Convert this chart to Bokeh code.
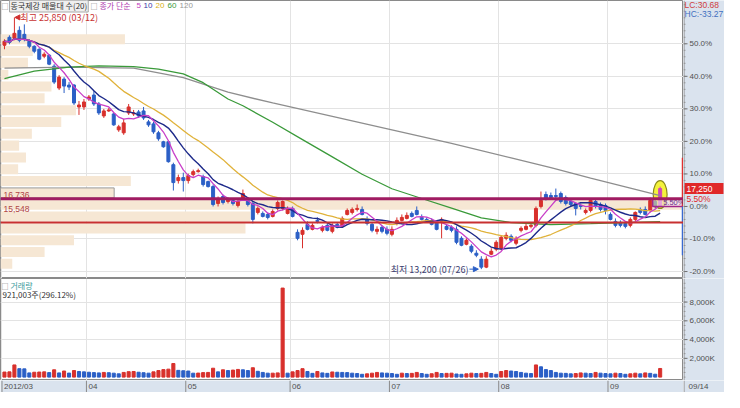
import numpy as np
import pandas as pd
from bokeh.plotting import figure
from bokeh.layouts import column, row
from bokeh.models import Range1d, FixedTicker, Span, Label, Grid, Arrow, NormalHead
from bokeh.embed import file_html
from bokeh.resources import INLINE
from bokeh.core.properties import value

# ---------------- data ----------------
opens = [24450, 24850, 24800, 25200, 25000, 24650, 24400, 24250, 23900, 23950,
         23400, 22300, 22750, 22450, 22450, 21350, 21350, 21750, 21950, 21500,
         20900, 21150, 21000, 20200, 20050, 21050, 21000, 21100, 21150, 20600,
         20500, 20050, 19600, 19600, 18450, 17650, 17800, 17650, 17950, 18100,
         17850, 17600, 17350, 16500, 16850, 16600, 16650, 16400, 16750, 16650,
         16500, 16050, 16000, 15950, 15850, 16250, 16250, 16000, 16250, 15050,
         14950, 15450, 15200, 15650, 15150, 15400, 15100, 15450, 15350, 15950,
         16050, 16200, 16200, 15700, 15450, 15100, 15300, 15200, 14950, 15500,
         15650, 15750, 16000, 16150, 15800, 15700, 15600, 15550, 15600, 15350,
         15300, 15200, 14750, 14450, 14350, 14000, 13700, 13300, 13950, 14200,
         14250, 14750, 14850, 14500, 15150, 15200, 15350, 15400, 16350, 16950,
         16900, 16900, 17000, 16800, 16600, 16500, 16400, 16050, 16150, 16600,
         16450, 16400, 15950, 15600, 15550, 15500, 15400, 15700, 16200, 16200,
         16150, 16600, 16350]
highs = [24750, 24950, 25850, 25400, 25500, 24750, 24450, 24300, 24100, 24000,
         23500, 22950, 22850, 22600, 22500, 21650, 21750, 21950, 22150, 21600,
         21250, 21300, 21050, 20450, 20750, 21500, 21200, 21200, 21350, 20700,
         20600, 20150, 19650, 19650, 18550, 17950, 18050, 18000, 18200, 18250,
         17950, 17650, 17450, 16850, 16950, 16800, 16750, 16750, 17200, 16800,
         16600, 16350, 16100, 16050, 16200, 16650, 16650, 16350, 16350, 15200,
         15300, 15600, 15500, 15800, 15400, 15500, 15500, 15550, 15850, 16250,
         16300, 16450, 16350, 15850, 15550, 15350, 15400, 15350, 15350, 15800,
         15950, 16050, 16100, 16350, 15950, 15800, 15750, 15650, 15800, 15450,
         15400, 15350, 14850, 14750, 14450, 14150, 13850, 13850, 14250, 14650,
         14900, 15050, 14950, 14850, 15350, 15500, 15500, 16350, 17100, 17100,
         17050, 17250, 17100, 16900, 16700, 16550, 16500, 16250, 16750, 16700,
         16550, 16500, 16050, 15750, 15650, 15600, 15800, 16100, 16300, 16350,
         16800, 16750, 17350]
lows = [24250, 24500, 24700, 24600, 24650, 24300, 24050, 23700, 23800, 23450,
        22500, 22200, 22050, 22200, 21450, 20950, 21200, 21650, 21400, 20950,
        20800, 21100, 20400, 20100, 19950, 20950, 20900, 20800, 20700, 20350,
        20000, 19650, 19300, 18550, 17150, 17500, 17100, 17500, 17850, 18050,
        17350, 17300, 16350, 16350, 16450, 16500, 16400, 16300, 16650, 16350,
        15500, 15950, 15800, 15700, 15800, 16150, 16150, 15950, 15800, 14650,
        14250, 15150, 15150, 15500, 15050, 15100, 15000, 15250, 15300, 15900,
        15950, 16100, 15900, 15400, 15050, 14950, 15000, 14900, 14850, 15400,
        15600, 15700, 15800, 15900, 15650, 15600, 15400, 15150, 14750, 15150,
        15050, 14450, 14350, 14400, 14000, 13800, 13200, 13250, 13900, 14100,
        14150, 14650, 14550, 14400, 15050, 15150, 15250, 15300, 16250, 16650,
        16700, 16750, 16500, 16400, 16350, 15900, 16200, 15950, 16050, 16250,
        16100, 15950, 15650, 15300, 15300, 15250, 15300, 15600, 15950, 15900,
        16050, 16250, 16300]
closes = [24650, 24600, 25050, 24700, 24750, 24400, 24150, 23750, 24000, 23500,
          22600, 22850, 22400, 22350, 21550, 21450, 21600, 21850, 21500, 21050,
          21150, 21200, 20450, 20350, 20550, 21350, 21050, 20900, 20800, 20450,
          20100, 19750, 19350, 18600, 17550, 17800, 17650, 17900, 18100, 18150,
          17450, 17350, 16450, 16750, 16550, 16700, 16500, 16600, 17000, 16450,
          15700, 16250, 15850, 15800, 16100, 16550, 16600, 16250, 15850, 14750,
          15150, 15200, 15400, 15600, 15300, 15150, 15400, 15300, 15750, 16150,
          16200, 16250, 15950, 15500, 15150, 15200, 15100, 15000, 15200, 15650,
          15800, 15900, 15850, 15950, 15700, 15650, 15450, 15200, 15700, 15200,
          15150, 14550, 14400, 14650, 14100, 13900, 13300, 13700, 14100, 14550,
          14800, 14900, 14650, 14750, 15250, 15350, 15400, 16250, 16650, 16750,
          16800, 16850, 16600, 16500, 16450, 16250, 16350, 16150, 16650, 16350,
          16200, 16150, 15700, 15400, 15400, 15350, 15700, 16050, 16050, 15950,
          16650, 16350, 17250]
volumes_k = [540, 560, 1300, 900, 880, 450, 520, 540, 560, 480,
             780, 450, 650, 430, 700, 600, 560, 520, 480, 450,
             500, 470, 420, 350, 500, 580, 600, 520, 470, 420,
             560, 700, 800, 850, 1450, 720, 680, 650, 420, 430,
             480, 500, 950, 560, 780, 700, 750, 820, 780, 700,
             1000, 620, 500, 420, 420, 450, 9490, 420, 560, 700,
             900, 600, 400, 600, 450, 400, 550, 520, 500, 480,
             420, 380, 300, 350, 420, 500, 450, 420, 380, 300,
             420, 380, 400, 500, 380, 300, 360, 500, 380, 400,
             420, 330, 300, 350, 420, 380, 400, 500, 380, 300,
             600, 700, 650, 600, 500, 420, 380, 1300, 1100, 800,
             700, 500, 420, 400, 350, 380, 450, 420, 380, 500,
             420, 380, 350, 420, 380, 300, 350, 420, 350, 450,
             400, 311.02, 921.003]

month_start = [0, 17, 37, 58, 78, 100, 122]
month_labels = ["2012/03", "04", "05", "06", "07", "08", "09"]
last_date = "09/14"
high_date = "03/12"
low_date = "07/26"
stock_name = "동국제강"
ma_periods = [5, 10, 20, 60, 120]

ma60_idx = [0, 6, 13, 19, 26, 31, 36, 40, 45, 48, 54, 60, 66, 72, 78, 84, 90, 96, 102, 110, 118, 125, 132]
ma60_val = [22770, 23150, 23350, 23410, 23380, 23250, 23010, 22570, 21750, 21410, 20580, 19710,
            18840, 17970, 17240, 16750, 16270, 15780, 15540, 15440, 15490, 15540, 15590]
ma120_idx = [0, 13, 26, 36, 45, 54, 66, 78, 90, 102, 110, 118, 125, 132]
ma120_val = [23300, 23350, 23300, 22820, 22090, 21550, 20880, 20200, 19520, 18790, 18300, 17770, 17340, 16900]

profile_low = 13170
profile_high = 25050
# volume per price bin (thousand shares), bottom bin first
profile_vol_k = [300, 1125, 1875, 6250, 6375, 17425, 2900, 3325, 450, 650,
                 475, 800, 1550, 1925, 1125, 1300, 200, 700, 825, 3175]
level_values = [16736, 15548]

pct_ticks = [-20, -10, 0, 10, 20, 30, 40, 50]
vol_ticks_k = [2000, 4000, 6000, 8000]
price_limit_pct = 15

# ---------------- derived ----------------
n = len(closes)
xc = np.arange(n) + 0.5
base = closes[-2]
chg = (closes[-1] / base - 1) * 100
lc = (closes[-1] / min(lows) - 1) * 100
hc = (closes[-1] / max(highs) - 1) * 100
cs = pd.Series(closes, dtype=float)
ma_fast = {k: cs.rolling(k, min_periods=1).mean().values for k in (5, 10, 20)}

RED = "#d8302c"
BLUE = "#2b5fc6"
PANEL = "#dae3ee"
GRID = "#e3e3e3"
BEIGE = "#f6e7d4"
AXC = "#8a8a8a"
TXT = "#505050"
KFONT = "Noto Sans CJK KR"
NFONT = "Liberation Sans"

W, RIGHT = 724, 41
H1, H2, H3 = 278, 102, 12
FW = W - RIGHT

xr = Range1d(-0.3, 137.2)
y_lo, y_hi = 12730, 26700
yr_main = Range1d(y_lo, y_hi)
yr_vol = Range1d(-360, 10510)


def fig(w, h, xrange, yrange, bg="white", outline=AXC):
    f = figure(width=w, height=h, x_range=xrange, y_range=yrange,
               x_axis_location=None, y_axis_location=None,
               toolbar_location=None, output_backend="svg", min_border=0,
               border_fill_color=PANEL, background_fill_color=bg, outline_line_color=outline)
    f.xgrid.visible = False
    f.ygrid.visible = False
    return f


def lab(f, x, y, text, color, font=KFONT, size="8px", **kw):
    f.add_layout(Label(x=x, y=y, x_units="screen", y_units="screen", text=text,
                       text_font=font, text_font_size=size, text_color=color,
                       text_baseline="middle", **kw))


# ---------------- main price panel ----------------
p = fig(FW, H1, xr, yr_main)
p.add_layout(Grid(dimension=0, ticker=FixedTicker(ticks=month_start), grid_line_color=GRID))
p.add_layout(Grid(dimension=1, ticker=FixedTicker(ticks=[base * (1 + t / 100) for t in pct_ticks]),
                  grid_line_color=GRID))

# volume profile (매물대)
edges = np.linspace(profile_low, profile_high, len(profile_vol_k) + 1)
vmax = max(profile_vol_k)
span_x = xr.end - xr.start
rights = [xr.start + v / vmax * span_x for v in profile_vol_k]
gap = 45
p.quad(left=xr.start, right=rights, bottom=edges[:-1] + gap, top=edges[1:] - gap,
       fill_color=BEIGE, line_color=None)
cur_bin = int(np.searchsorted(edges, closes[-1]) - 1)
p.quad(left=xr.start, right=rights[cur_bin], bottom=edges[cur_bin] + gap, top=edges[cur_bin + 1] - gap,
       fill_color=None, line_color="#9a9a9a", line_width=1)

# highlight ellipse on last candle
p.ellipse(x=[xc[-1]], y=[(opens[-1] + closes[-1]) / 2 + 150], width=2.8, height=1400,
          fill_color="#f4f23c", line_color="#8c8a1c", line_width=1.2)

# candles
up = [c >= o for o, c in zip(opens, closes)]
ccol = [RED if u else BLUE for u in up]
ccol[-1] = "#d048b8"
ccol[-2] = "#2a5a3a"
p.segment(x0=xc, y0=lows, x1=xc, y1=highs, color=ccol, line_width=1)
p.vbar(x=xc, width=0.6, top=np.maximum(opens, closes), bottom=np.minimum(opens, closes),
       fill_color=ccol, line_color=ccol, line_width=1)

# moving averages
p.line(np.array(ma120_idx) + 0.5, ma120_val, line_color="#8e8e8e", line_width=1.3)
p.line(np.array(ma60_idx) + 0.5, ma60_val, line_color="#3a9a3a", line_width=1.3)
p.line(xc, ma_fast[20], line_color="#e0b23a", line_width=1.3)
p.line(xc, ma_fast[10], line_color="#1d2a8a", line_width=1.4)
p.line(xc, ma_fast[5], line_color="#c83ec8", line_width=1.3)

# levels
p.add_layout(Span(location=level_values[0], dimension="width", line_color="#a01c62", line_width=3))
p.add_layout(Span(location=level_values[1], dimension="width", line_color="#c83030", line_width=2))
for lv, off in zip(level_values, (1, 10)):
    p.add_layout(Label(x=3, y=lv, x_units="screen", y_units="data", y_offset=off,
                       text=f"{lv:,}", text_font=NFONT, text_font_size="8.5px",
                       text_color="#b04444", text_baseline="bottom"))

# box between previous close and upper level, at right end
p.quad(left=[xc[-2] - 0.5], right=[xr.end], bottom=[base], top=[level_values[0]],
       fill_color="#f3e0f0", fill_alpha=0.6, line_color="#a0288c", line_width=1.5)
p.add_layout(Label(x=xc[-1] + 0.6, y=(base + level_values[0]) / 2, text=f"{chg:.2f}%",
                   text_font=NFONT, text_font_size="7.5px", text_color="#6a2a8a",
                   text_baseline="middle"))

# daily price-limit bars at right edge
lim_x = xr.end - 0.15
p.segment(x0=[lim_x], y0=[base], x1=[lim_x], y1=[base * (1 + price_limit_pct / 100)],
          line_color="#e03030", line_width=2)
p.segment(x0=[lim_x], y0=[base * (1 - price_limit_pct / 100)], x1=[lim_x], y1=[base],
          line_color="#3a6ad0", line_width=2)

# high / low annotations
ih = int(np.argmax(highs))
il = int(np.argmin(lows))
p.add_layout(Arrow(end=NormalHead(size=5, fill_color="#d03030", line_color="#d03030"),
                   x_start=xc[ih] + 1.1, y_start=highs[ih], x_end=xc[ih] + 0.1, y_end=highs[ih],
                   line_color="#d03030", line_width=1))
p.add_layout(Label(x=xc[ih] + 1.2, y=highs[ih], text=f"최고 {highs[ih]:,} ({high_date})",
                   text_font=KFONT, text_font_size="9px", text_color="#c83232",
                   text_baseline="middle"))
p.add_layout(Arrow(end=NormalHead(size=5, fill_color="#2b5fc6", line_color="#2b5fc6"),
                   x_start=xc[il] - 2.4, y_start=lows[il], x_end=xc[il] - 0.6, y_end=lows[il],
                   line_color="#2b5fc6", line_width=1))
p.add_layout(Label(x=xc[il] - 2.6, y=lows[il], text=f"최저 {lows[il]:,} ({low_date})",
                   text_font=KFONT, text_font_size="9px", text_color="#3c3c70",
                   text_baseline="middle", text_align="right"))

# legend line
top_y = H1 - 5
lab(p, 1, top_y, "□", "#777777", size="7px")
p.add_layout(Label(x=9, y=top_y, x_units="screen", y_units="screen",
                   text=f"{stock_name} 매물대 수({len(profile_vol_k)})",
                   text_font=KFONT, text_font_size="8px", text_color="#333333",
                   text_baseline="middle", background_fill_color="#efefef",
                   border_line_color="#a8a8a8", padding=1))
lab(p, 90, top_y, "□", "#777777", size="7px")
lab(p, 99, top_y, "종가 단순", "#b040b0")
ma_cols = ["#c040c0", "#3a3aa8", "#d8b020", "#3a9a3a", "#999999"]
for xx, per, col in zip([136, 143, 155, 167, 179], ma_periods, ma_cols):
    lab(p, xx, top_y, str(per), col, font=NFONT)

# ---------------- right price scale panel ----------------
pr = fig(RIGHT, H1, Range1d(0, RIGHT), yr_main, bg=PANEL, outline=None)
tick_y = [base * (1 + t / 100) for t in pct_ticks]
minor_y = [base * (1 + m / 100) for m in range(-22, 64, 2)]
pr.segment(x0=0, y0=minor_y, x1=2, y1=minor_y, line_color="#9a9a9a", line_width=1)
pr.segment(x0=0, y0=tick_y, x1=4, y1=tick_y, line_color="#707070", line_width=1)
pr.text(x=6, y=tick_y, text=[f"{t:.1f}%" for t in pct_ticks], text_font=value(NFONT),
        text_font_size="8px", text_color=TXT, text_baseline="middle")
pr.add_layout(Span(location=0.5, dimension="height", line_color=AXC, line_width=1))
lab(pr, 1, H1 - 4, f"LC:{lc:.2f}", "#d04040", font=NFONT, size="8.5px")
lab(pr, 1, H1 - 13, f"HC:{hc:.2f}", "#3f6fc0", font=NFONT, size="8.5px")
half_box = 5.5 * (y_hi - y_lo) / H1
pr.quad(left=1, right=RIGHT - 1, bottom=closes[-1] - half_box, top=closes[-1] + half_box,
        fill_color="#e02828", line_color=None)
pr.text(x=3, y=[closes[-1]], text=[f"{closes[-1]:,}"], text_font=value(NFONT),
        text_font_size="8.5px", text_color="white", text_baseline="middle")
pr.text(x=3, y=[closes[-1]], y_offset=10, text=[f"{chg:.2f}%"], text_font=value(NFONT),
        text_font_size="8.5px", text_color="#e02828", text_baseline="middle")

# ---------------- volume panel ----------------
v = fig(FW, H2, xr, yr_vol)
v.add_layout(Grid(dimension=0, ticker=FixedTicker(ticks=month_start), grid_line_color=GRID))
v.add_layout(Grid(dimension=1, ticker=FixedTicker(ticks=vol_ticks_k), grid_line_color=GRID))
vcol = [RED] + [RED if volumes_k[i] >= volumes_k[i - 1] else BLUE for i in range(1, n)]
v.vbar(x=xc, width=0.62, top=volumes_k, bottom=0, fill_color=vcol, line_color=vcol, line_width=1)
lab(v, 1, H2 - 7, "□", "#777777", size="7px")
lab(v, 10, H2 - 7, "거래량", "#3a9a9a")
last_shares = int(round(volumes_k[-1] * 1000))
lab(v, 2, H2 - 16, f"{last_shares:,}주({volumes_k[-1] / volumes_k[-2] * 100:.2f}%)", "#333333")

vr = fig(RIGHT, H2, Range1d(0, RIGHT), yr_vol, bg=PANEL, outline=None)
vminor = list(range(0, 10001, 500))
vr.segment(x0=0, y0=vminor, x1=2, y1=vminor, line_color="#9a9a9a", line_width=1)
vr.segment(x0=0, y0=vol_ticks_k, x1=4, y1=vol_ticks_k, line_color="#707070", line_width=1)
vr.text(x=6, y=vol_ticks_k, text=[f"{t:,}K" for t in vol_ticks_k], text_font=value(NFONT),
        text_font_size="8px", text_color=TXT, text_baseline="middle")
vr.add_layout(Span(location=0.5, dimension="height", line_color=AXC, line_width=1))

# ---------------- date strip ----------------
xa = fig(FW, H3, xr, Range1d(0, 1), bg=PANEL, outline=None)
xa.segment(x0=month_start, y0=0, x1=month_start, y1=1, line_color=AXC, line_width=1)
xa.text(x=month_start, y=0.5, x_offset=2, text=month_labels, text_font=value(NFONT),
        text_font_size="8px", text_color=TXT, text_baseline="middle", text_align="left")
xb = fig(RIGHT, H3, Range1d(0, RIGHT), Range1d(0, 1), bg=PANEL, outline=None)
xb.add_layout(Span(location=0.5, dimension="height", line_color=AXC, line_width=1))
xb.text(x=5, y=0.5, text=[last_date], text_font=value(NFONT), text_font_size="8px",
        text_color=TXT, text_baseline="middle")

layout = column(row(p, pr, spacing=0), row(v, vr, spacing=0), row(xa, xb, spacing=0), spacing=0)
open("out.html", "w").write(file_html(layout, INLINE))
